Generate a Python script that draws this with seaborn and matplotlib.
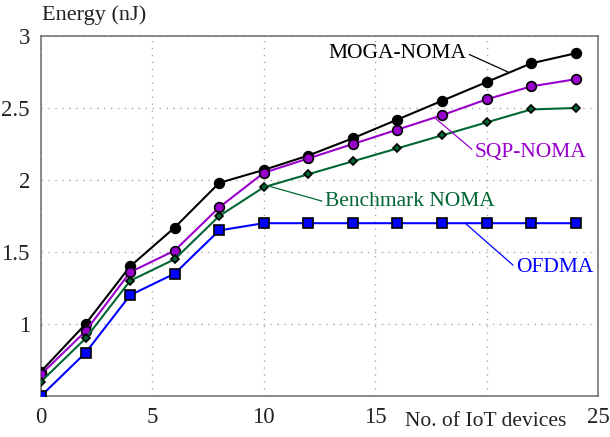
import matplotlib
matplotlib.use("Agg")
import matplotlib.pyplot as plt
import seaborn as sns
import pandas as pd

devices = [0, 2, 4, 6, 8, 10, 12, 14, 16, 18, 20, 22, 24]
moga = [0.67, 1.00, 1.40, 1.67, 1.98, 2.07, 2.17, 2.29, 2.42, 2.55, 2.68, 2.81, 2.88]
sqp = [0.65, 0.95, 1.36, 1.51, 1.81, 2.05, 2.15, 2.25, 2.35, 2.45, 2.56, 2.65, 2.70]
bench = [0.60, 0.90, 1.30, 1.45, 1.75, 1.95, 2.04, 2.13, 2.22, 2.31, 2.40, 2.49, 2.50]
ofdma = [0.50, 0.80, 1.20, 1.35, 1.65, 1.70, 1.70, 1.70, 1.70, 1.70, 1.70, 1.70, 1.70]
xticks = [0, 5, 10, 15, 20, 25]
xticklabels = ["0", "5", "10", "15", "", "25"]
yticks = [0.5, 1, 1.5, 2, 2.5, 3]
yticklabels = ["", "1", "1.5", "2", "2.5", "3"]

sns.set_style("white")
plt.rcParams["font.family"] = ["Liberation Serif", "DejaVu Serif"]

fig = plt.figure(figsize=(6.1, 4.37), dpi=100)
ax = fig.add_axes([41/610, 41/437, 557/610, 360/437])

specs = [
    (moga, "#000000", "#000000", "o", 7),
    (sqp, "#9900CC", "#9900CC", "o", 7),
    (bench, "#006633", "#006633", "D", 4.5),
    (ofdma, "#0000FF", "#0000FF", "s", 6.5),
]
for vals, lc, fc, mk, ms in specs:
    sns.lineplot(x=devices, y=vals, ax=ax, color=lc, marker=mk, markersize=ms,
                 markerfacecolor=fc, markeredgecolor="black", markeredgewidth=1.2,
                 linewidth=1.5, zorder=3)

ax.set_xlim(0, 25)
ax.set_ylim(0.5, 3)
ax.set_xticks(xticks)
ax.set_xticklabels(xticklabels)
ax.set_yticks(yticks)
ax.set_yticklabels(yticklabels)
ax.tick_params(length=0, labelsize=16.5, colors="#222222", pad=8)
ax.grid(True, linestyle=(0, (1, 4)), color="#aaaaaa", linewidth=1.0)
for s in ax.spines.values():
    s.set_color("#777777")
    s.set_linewidth(1.2)

fs = 15.5
ax.annotate("MOGA-NOMA", xy=(508, 437-72), xycoords="figure pixels",
            xytext=(397, 437-53), textcoords="figure pixels",
            ha="center", va="center", fontsize=fs, color="black",
            arrowprops=dict(arrowstyle="-", color="black", lw=0.9, shrinkA=0, shrinkB=0,
                            relpos=(1.0, 0.5)))
ax.annotate("SQP-NOMA", xy=(435, 437-118), xycoords="figure pixels",
            xytext=(531, 437-152), textcoords="figure pixels",
            ha="center", va="center", fontsize=fs, color="#9900CC",
            arrowprops=dict(arrowstyle="-", color="#9900CC", lw=0.9, shrinkA=0, shrinkB=0,
                            relpos=(0.0, 0.5)))
ax.annotate("Benchmark NOMA", xy=(265, 437-185), xycoords="figure pixels",
            xytext=(410, 437-202), textcoords="figure pixels",
            ha="center", va="center", fontsize=fs, color="#006633",
            arrowprops=dict(arrowstyle="-", color="#006633", lw=0.9, shrinkA=0, shrinkB=0,
                            relpos=(0.0, 0.5)))
ax.annotate("OFDMA", xy=(465, 437-223), xycoords="figure pixels",
            xytext=(555, 437-268), textcoords="figure pixels",
            ha="center", va="center", fontsize=fs, color="#0000FF",
            arrowprops=dict(arrowstyle="-", color="#0000FF", lw=0.9, shrinkA=0, shrinkB=0,
                            relpos=(0.0, 0.5)))

fig.text(42/610, 1 - 15/437, "Energy (nJ)", ha="left", va="center", fontsize=16, color="#222222")
fig.text(486/610, 1 - 422/437, "No. of IoT devices", ha="center", va="center", fontsize=15.5, color="#222222")

fig.savefig("out.png", dpi=100)
